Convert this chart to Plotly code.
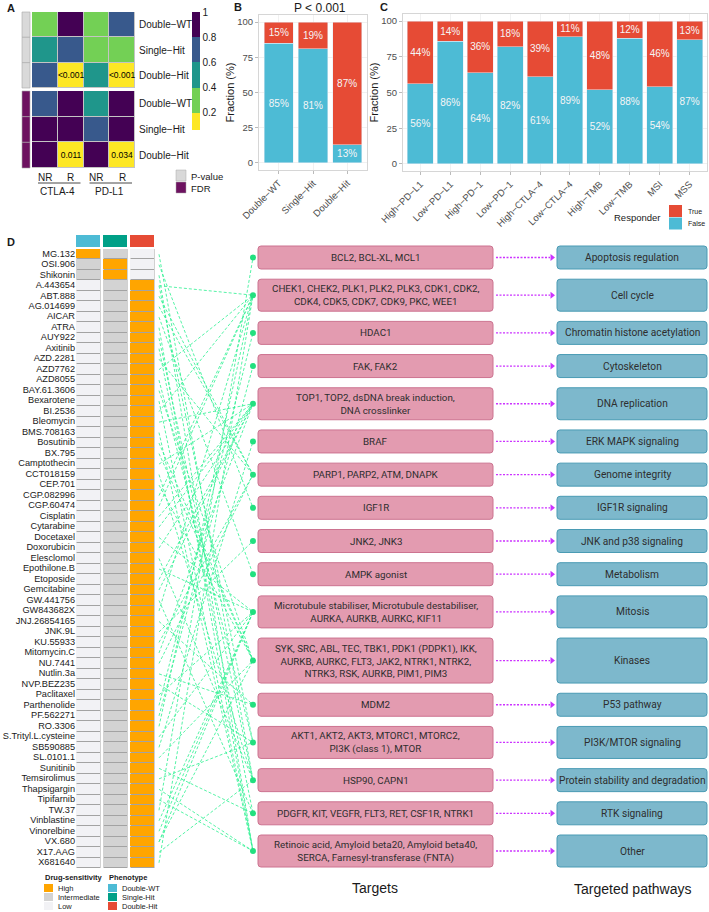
import plotly.graph_objects as go

W, H = 709, 912
FONT = "Liberation Sans, Arial, sans-serif"
BOXFONT = "Roboto, Lato, sans-serif"

# ---------------- Panel A data ----------------
a_rows = ["Double−WT", "Single−Hit", "Double−Hit"]
a_cols = ["NR", "R", "NR", "R"]
a_groups = ["CTLA-4", "PD-L1"]
a_pvalue = [[0.30, 0.92, 0.30, 0.70],
            [0.50, 0.70, 0.30, 0.30],
            [0.70, 0.0005, 0.50, 0.0005]]
a_pvalue_text = [["", "", "", ""], ["", "", "", ""], ["", "<0.001", "", "<0.001"]]
a_fdr = [[0.70, 0.92, 0.50, 0.92],
         [0.92, 0.92, 0.70, 0.92],
         [0.92, 0.011, 0.92, 0.034]]
a_fdr_text = [["", "", "", ""], ["", "", "", ""], ["", "0.011", "", "0.034"]]
a_scale_ticks = [0.2, 0.4, 0.6, 0.8, 1.0]
a_scale_labels = ["0.2", "0.4", "0.6", "0.8", "1"]
a_row_groups = ["P-value", "FDR"]

# ---------------- Panel B data ----------------
b_title = "P < 0.001"
b_cats = ["Double−WT", "Single−Hit", "Double−Hit"]
b_false = [85, 81, 13]
b_true = [15, 19, 87]

# ---------------- Panel C data ----------------
c_cats = ["High−PD−L1", "Low−PD−L1", "High−PD−1", "Low−PD−1", "High−CTLA−4",
          "Low−CTLA−4", "High−TMB", "Low−TMB", "MSI", "MSS"]
c_false = [56, 86, 64, 82, 61, 89, 52, 88, 54, 87]
c_true = [44, 14, 36, 18, 39, 11, 48, 12, 46, 13]
frac_ticks = [0, 25, 50, 75, 100]
responder_levels = ["True", "False"]

# ---------------- Panel D data ----------------
drugs = ["MG.132", "OSI.906", "Shikonin", "A.443654", "ABT.888", "AG.014699", "AICAR",
         "ATRA", "AUY922", "Axitinib", "AZD.2281", "AZD7762", "AZD8055", "BAY.61.3606",
         "Bexarotene", "BI.2536", "Bleomycin", "BMS.708163", "Bosutinib", "BX.795",
         "Camptothecin", "CCT018159", "CEP.701", "CGP.082996", "CGP.60474", "Cisplatin",
         "Cytarabine", "Docetaxel", "Doxorubicin", "Elesclomol", "Epothilone.B", "Etoposide",
         "Gemcitabine", "GW.441756", "GW843682X", "JNJ.26854165", "JNK.9L", "KU.55933",
         "Mitomycin.C", "NU.7441", "Nutlin.3a", "NVP.BEZ235", "Paclitaxel", "Parthenolide",
         "PF.562271", "RO.3306", "S.Trityl.L.cysteine", "SB590885", "SL.0101.1", "Sunitinib",
         "Temsirolimus", "Thapsigargin", "Tipifarnib", "TW.37", "Vinblastine", "Vinorelbine",
         "VX.680", "X17.AAG", "X681640"]
sens_levels = ["Low", "Intermediate", "High"]
phenotypes = ["Double-WT", "Single-Hit", "Double-Hit"]
# sensitivity level index (0 Low, 1 Intermediate, 2 High) per phenotype column
drug_sens = [[2, 1, 0], [1, 2, 0], [1, 2, 0]] + [[0, 1, 2] for _ in range(56)]

targets = ["BCL2, BCL-XL, MCL1",
           "CHEK1, CHEK2, PLK1, PLK2, PLK3, CDK1, CDK2,<br>CDK4, CDK5, CDK7, CDK9, PKC, WEE1",
           "HDAC1",
           "FAK, FAK2",
           "TOP1, TOP2, dsDNA break induction,<br>DNA crosslinker",
           "BRAF",
           "PARP1, PARP2, ATM, DNAPK",
           "IGF1R",
           "JNK2, JNK3",
           "AMPK agonist",
           "Microtubule stabiliser, Microtubule destabiliser,<br>AURKA, AURKB, AURKC, KIF11",
           "SYK, SRC, ABL, TEC, TBK1, PDK1 (PDPK1), IKK,<br>AURKB, AURKC, FLT3, JAK2, NTRK1, NTRK2,<br>NTRK3, RSK, AURKB, PIM1, PIM3",
           "MDM2",
           "AKT1, AKT2, AKT3, MTORC1, MTORC2,<br>PI3K (class 1), MTOR",
           "HSP90, CAPN1",
           "PDGFR, KIT, VEGFR, FLT3, RET, CSF1R, NTRK1",
           "Retinoic acid, Amyloid beta20, Amyloid beta40,<br>SERCA, Farnesyl-transferase (FNTA)"]
pathways = ["Apoptosis regulation", "Cell cycle", "Chromatin histone acetylation", "Cytoskeleton",
            "DNA replication", "ERK MAPK signaling", "Genome integrity", "IGF1R signaling",
            "JNK and p38 signaling", "Metabolism", "Mitosis", "Kinases", "P53 pathway",
            "PI3K/MTOR signaling", "Protein stability and degradation", "RTK signaling", "Other"]
# target indices (0-based into `targets`) for each drug
drug_targets = [[14], [7], [16], [1, 13], [6], [6], [9], [16], [14], [15], [6], [1], [13], [11],
                [16], [1], [4], [16], [11], [11], [4], [14], [11], [1], [1], [4], [4], [10], [4],
                [14], [10], [4], [4], [15], [1], [12], [8], [6], [4], [6], [12], [13], [10], [2],
                [3], [1], [10], [5], [11], [15], [13], [16], [16], [0], [10], [10], [10, 11],
                [14], [1]]

# ---------------- colours ----------------
VIR = ["#FDE725", "#73D055", "#1F968B", "#38598C", "#440154"]
GRAY_SIDE = "#D9D9D9"
FDR_PURPLE = "#6D1260"
C_TRUE, C_FALSE = "#E64B35", "#4DBBD5"
PHENO_COL = ["#4DBBD5", "#00A087", "#E64B35"]
SENS_COL = ["#F2F2F5", "#D3D3D3", "#FFA500"]
PINK, PINK_LINE = "#E39BB0", "#CC7390"
TEAL, TEAL_LINE = "#7DB8CC", "#4A9BB4"
NET_GREEN = "rgba(45,240,145,0.9)"
DOT_GREEN = "#22E07F"
MAGENTA = "#CC33FF"

fig = go.Figure()
shapes, anns = [], []


def ann(x, y, text, size=10, xanchor="center", color="#1A1A1A", family=FONT, bold=False, yanchor="middle"):
    anns.append(dict(x=x, y=y, xref="x", yref="y", text=f"<b>{text}</b>" if bold else text,
                     showarrow=False, xanchor=xanchor, yanchor=yanchor,
                     font=dict(size=size, color=color, family=family)))


def rect(x0, y0, x1, y1, fill, line="rgba(0,0,0,0)", lw=0, layer="below"):
    shapes.append(dict(type="rect", xref="x", yref="y", x0=x0, y0=y0, x1=x1, y1=y1,
                       fillcolor=fill, line=dict(color=line, width=lw), layer=layer))


def rrect(x0, y0, x1, y1, r, fill, line, lw=1):
    p = (f"M{x0+r},{y0} L{x1-r},{y0} Q{x1},{y0} {x1},{y0+r} L{x1},{y1-r} Q{x1},{y1} {x1-r},{y1} "
         f"L{x0+r},{y1} Q{x0},{y1} {x0},{y1-r} L{x0},{y0+r} Q{x0},{y0} {x0+r},{y0} Z")
    shapes.append(dict(type="path", path=p, xref="x", yref="y", fillcolor=fill,
                       line=dict(color=line, width=lw), layer="below"))


# ================= Panel A =================
zmin, zmax = 0.065, 1.0
nz = lambda v: (v - zmin) / (zmax - zmin)
bounds = [zmin, 0.2, 0.4, 0.6, 0.8, 1.0]
cs = []
for i, c in enumerate(VIR):
    cs += [[nz(bounds[i]), c], [nz(bounds[i + 1]), c]]

ax0, ax1 = 32, 135
adx = (ax1 - ax0) / len(a_cols)
groups_y = [(12, 88), (91, 168)]
for gi, (mat, txt) in enumerate([(a_pvalue, a_pvalue_text), (a_fdr, a_fdr_text)]):
    gy0, gy1 = groups_y[gi]
    ady = (gy1 - gy0) / len(a_rows)
    rect(ax0, gy0, ax1, gy1, "#C4C4C4")
    hm = go.Heatmap(z=mat, text=txt, texttemplate="%{text}", textfont=dict(size=8.5, color="black", family=FONT),
                    x0=ax0 + adx / 2, dx=adx, y0=gy0 + ady / 2, dy=ady, colorscale=cs, zmin=zmin, zmax=zmax,
                    xgap=1, ygap=1, hoverinfo="skip", showscale=(gi == 0))
    if gi == 0:
        hm.colorbar = dict(x=192 / W, xanchor="left", y=1 - 12 / H, yanchor="top", len=118, lenmode="pixels",
                           thickness=8, thicknessmode="pixels", outlinewidth=0, xpad=0, ypad=0,
                           tickvals=a_scale_ticks, ticktext=a_scale_labels, ticks="",
                           tickfont=dict(size=10, color="#1A1A1A", family=FONT))
    fig.add_trace(hm)
    side = GRAY_SIDE if gi == 0 else FDR_PURPLE
    for r, lab in enumerate(a_rows):
        rect(22, gy0 + r * ady, 30, gy0 + (r + 1) * ady, side, "#A8A8A8", 0.6)
        ann(137, gy0 + (r + 0.5) * ady, lab, 10, "left")
for ci, lab in enumerate(a_cols):
    ann(ax0 + (ci + 0.5) * adx, 177, lab, 10)
for gi, lab in enumerate(a_groups):
    xl = ax0 + gi * 2 * adx
    shapes.append(dict(type="line", xref="x", yref="y", x0=xl + 6, x1=xl + 2 * adx - 3, y0=183, y1=183,
                       line=dict(color="#1A1A1A", width=0.8)))
    ann(xl + adx, 191, lab, 10)
for i, (lab, col) in enumerate(zip(a_row_groups, [GRAY_SIDE, FDR_PURPLE])):
    rect(176, 170 + i * 12, 186, 181 + i * 12, col, "#A8A8A8", 0.5)
    ann(189, 176 + i * 12, lab, 9.5, "left")
ann(5, 8, "A", 11, "left", bold=True)

# ================= Panel B =================
bar_text = dict(color="#F5F5F5", size=10, family=FONT)
fig.add_trace(go.Bar(x=b_cats, y=b_false, marker_color=C_FALSE, xaxis="x2", yaxis="y2", width=0.85,
                     text=[f"{v}%" for v in b_false], textposition="inside", insidetextanchor="middle",
                     textfont=bar_text, constraintext="none", textangle=0, hoverinfo="skip", showlegend=False))
fig.add_trace(go.Bar(x=b_cats, y=b_true, marker_color=C_TRUE, xaxis="x2", yaxis="y2", width=0.85,
                     text=[f"{v}%" for v in b_true], textposition="inside", insidetextanchor="middle",
                     textfont=bar_text, constraintext="none", textangle=0, hoverinfo="skip", showlegend=False))

# ================= Panel C =================
fig.add_trace(go.Bar(x=c_cats, y=c_false, marker_color=C_FALSE, xaxis="x3", yaxis="y3", width=0.87,
                     text=[f"{v}%" for v in c_false], textposition="inside", insidetextanchor="middle",
                     textfont=bar_text, constraintext="none", textangle=0, hoverinfo="skip", showlegend=False))
fig.add_trace(go.Bar(x=c_cats, y=c_true, marker_color=C_TRUE, xaxis="x3", yaxis="y3", width=0.87,
                     text=[f"{v}%" for v in c_true], textposition="inside", insidetextanchor="middle",
                     textfont=bar_text, constraintext="none", textangle=0, hoverinfo="skip", showlegend=False))
ann(232, 7, "B", 11, "left", bold=True)
ann(320, 8, b_title, 12)
ann(378, 7, "C", 11, "left", bold=True)
ann(662, 217, "Responder", 9.5, "right")
for i, (lab, col) in enumerate(zip(responder_levels, [C_TRUE, C_FALSE])):
    rect(669, 205 + i * 12.5, 682, 217 + i * 12.5, col)
    ann(686, 211 + i * 12.5, lab, 7, "left")

# ================= Panel D =================
ann(5, 242, "D", 11, "left", bold=True)
rows_top, rows_bot = 249, 868
rh = (rows_bot - rows_top) / len(drugs)
drug_y = [rows_top + (i + 0.5) * rh for i in range(len(drugs))]
col_x0, col_dx, cgap = 88.5, 27, 3
for k in range(3):
    rect(col_x0 + k * col_dx - col_dx / 2 + cgap / 2, rows_top, col_x0 + k * col_dx + col_dx / 2 - cgap / 2,
         rows_bot, "#A3A3A3")
sens_cs = [[0, SENS_COL[0]], [0.333, SENS_COL[0]], [0.333, SENS_COL[1]], [0.667, SENS_COL[1]],
           [0.667, SENS_COL[2]], [1, SENS_COL[2]]]
fig.add_trace(go.Heatmap(z=drug_sens, x0=col_x0, dx=col_dx, y0=drug_y[0], dy=rh, colorscale=sens_cs,
                         zmin=0, zmax=2, xgap=cgap, ygap=1, showscale=False, hoverinfo="skip"))
ph_cs = [[0, PHENO_COL[0]], [0.333, PHENO_COL[0]], [0.333, PHENO_COL[1]], [0.667, PHENO_COL[1]],
         [0.667, PHENO_COL[2]], [1, PHENO_COL[2]]]
fig.add_trace(go.Heatmap(z=[[0, 1, 2]], x0=col_x0, dx=col_dx, y0=241, dy=12, colorscale=ph_cs,
                         zmin=0, zmax=2, xgap=cgap, showscale=False, hoverinfo="skip"))
fig.add_trace(go.Scatter(x=[75] * len(drugs), y=drug_y, text=drugs, mode="text", textposition="middle left",
                         textfont=dict(size=9.2, color="#1A1A1A", family=FONT), hoverinfo="skip", showlegend=False,
                         cliponaxis=False))

# legends of D
ann(43, 877, "Drug-sensitivity", 7.5, "left", bold=True)
for i, lvl in enumerate(reversed(sens_levels)):
    rect(44, 884 + i * 9, 53, 892 + i * 9, SENS_COL[2 - i])
    ann(56, 888 + i * 9, lvl, 7.5, "left")
ann(107, 877, "Phenotype", 7.5, "left", bold=True)
for i, ph in enumerate(phenotypes):
    rect(108, 884 + i * 9, 117, 892 + i * 9, PHENO_COL[i])
    ann(120, 888 + i * 9, ph, 7.5, "left")

# target / pathway boxes
hmap = {1: 23, 2: 32, 3: 45}
heights = [hmap[t.count("<br>") + 1] for t in targets]
box_top, box_bot = 246, 867
gap = (box_bot - box_top - sum(heights)) / (len(targets) - 1)
centers = []
cur = box_top
for t, p, h in zip(targets, pathways, heights):
    rrect(258, cur, 493, cur + h, 3, PINK, PINK_LINE)
    rrect(557, cur, 707, cur + h, 3, TEAL, TEAL_LINE)
    c = cur + h / 2
    centers.append(c)
    ann(375.5, c, t, 9.8, family=BOXFONT, color="#2E2E2E")
    ann(632, c, p, 10.2, family=BOXFONT, color="#2E2E2E")
    cur += h + gap

lx, ly = [], []
for i, tl in enumerate(drug_targets):
    for t in tl:
        lx += [159, 253, None]
        ly += [drug_y[i], centers[t], None]
fig.add_trace(go.Scatter(x=lx, y=ly, mode="lines", line=dict(color=NET_GREEN, width=0.9, dash="3px,2px"),
                         hoverinfo="skip", showlegend=False))
fig.add_trace(go.Scatter(x=[253] * len(centers), y=centers, mode="markers",
                         marker=dict(color=DOT_GREEN, size=6), hoverinfo="skip", showlegend=False))
axx, axy = [], []
for c in centers:
    axx += [496, 550, None]
    axy += [c, c, None]
fig.add_trace(go.Scatter(x=axx, y=axy, mode="lines", line=dict(color=MAGENTA, width=1.3, dash="2px,1.5px"),
                         hoverinfo="skip", showlegend=False))
fig.add_trace(go.Scatter(x=[552] * len(centers), y=centers, mode="markers",
                         marker=dict(symbol="triangle-right", color=MAGENTA, size=6), hoverinfo="skip",
                         showlegend=False))
ann(375, 888, "Targets", 14)
ann(633, 889, "Targeted pathways", 14)

# ================= layout =================
hidden = dict(visible=False, fixedrange=True)
frame = dict(showline=True, mirror=True, linecolor="#D6D6D6", linewidth=1, showgrid=True,
             gridcolor="#EEEEEE", gridwidth=0.8, zeroline=False, fixedrange=True,
             tickfont=dict(size=9.5, color="#4D4D4D", family=FONT))
fig.update_layout(
    width=W, height=H, margin=dict(l=0, r=0, t=0, b=0, pad=0, autoexpand=False),
    paper_bgcolor="white", plot_bgcolor="rgba(0,0,0,0)", barmode="stack", showlegend=False,
    font=dict(family=FONT),
    xaxis=dict(domain=[0, 1], range=[0, W], **hidden),
    yaxis=dict(domain=[0, 1], range=[H, 0], **hidden),
    xaxis2=dict(domain=[259 / W, 367 / W], range=[-0.58, 2.58], anchor="y2", tickangle=-45,
                ticks="outside", ticklen=3, tickcolor="#BBBBBB", **frame),
    yaxis2=dict(domain=[1 - 170 / H, 1 - 15 / H], range=[-5, 105], anchor="x2", tickvals=frac_ticks,
                ticks="outside", ticklen=3, tickcolor="#BBBBBB",
                title=dict(text="Fraction (%)", font=dict(size=11, color="#1A1A1A"), standoff=0), **frame),
    xaxis3=dict(domain=[403 / W, 707 / W], range=[-0.58, 9.58], anchor="y3", tickangle=-45,
                ticks="outside", ticklen=3, tickcolor="#BBBBBB", **frame),
    yaxis3=dict(domain=[1 - 171 / H, 1 - 14 / H], range=[-5, 105], anchor="x3", tickvals=frac_ticks,
                ticks="outside", ticklen=3, tickcolor="#BBBBBB",
                title=dict(text="Fraction (%)", font=dict(size=11, color="#1A1A1A"), standoff=0), **frame),
    shapes=shapes, annotations=anns,
)

fig.write_html("out.html", post_script="document.body.style.margin='0';",
               config={"displayModeBar": False, "staticPlot": True})
